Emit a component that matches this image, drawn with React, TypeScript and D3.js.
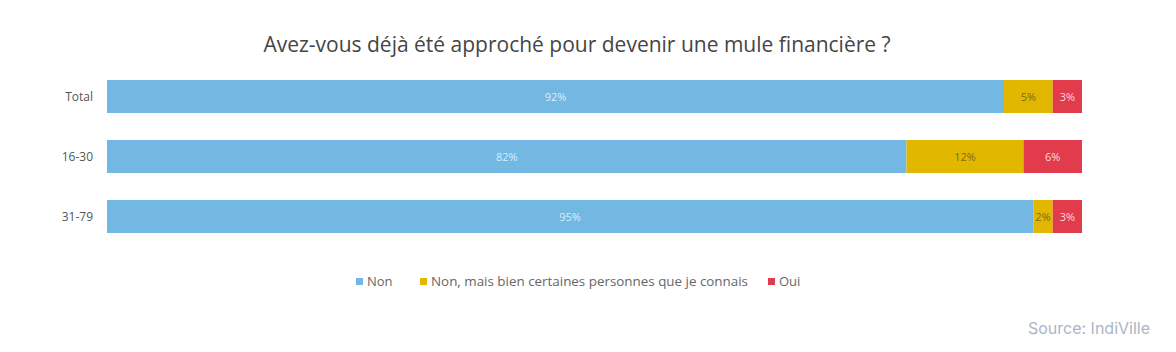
import React, { useEffect, useRef } from 'react';
import * as d3 from 'd3';

const categories = ['Total', '16-30', '31-79'];
const seriesNames = ['Non', 'Non, mais bien certaines personnes que je connais', 'Oui'];
const nonValues = [92, 82, 95];
const nonMaisValues = [5, 12, 2];
const ouiValues = [3, 6, 3];

const colors = ['#72b8e3', '#e1b700', '#e23b4b'];
const labelColors = ['#dcedf8', '#7d6c18', '#fbd9dc'];

const width = 1176;
const height = 352;
const margin = { top: 80, right: 94, bottom: 119, left: 107 };

const App: React.FC = () => {
  const svgRef = useRef<SVGSVGElement>(null);

  useEffect(() => {
    const svg = d3.select(svgRef.current);
    svg.selectAll('*').remove();

    const font = '"Open Sans", "Noto Sans", sans-serif';
    const innerWidth = width - margin.left - margin.right;

    const rows = categories.map((c, i) => ({
      category: c,
      [seriesNames[0]]: nonValues[i],
      [seriesNames[1]]: nonMaisValues[i],
      [seriesNames[2]]: ouiValues[i],
    }));

    const stacked = d3.stack<any>().keys(seriesNames)(rows);

    const x = d3.scaleLinear().domain([0, 100]).range([0, innerWidth]);
    // bands of 60px, bars 33px high
    const y = d3.scaleBand()
      .domain(categories)
      .range([margin.top - 13.5, margin.top - 13.5 + 180])
      .paddingInner(0.45)
      .paddingOuter(0.225);
    const barH = y.bandwidth();

    svg.append('rect').attr('width', width).attr('height', height).attr('fill', '#ffffff');

    // Title
    svg.append('text')
      .attr('x', 577)
      .attr('y', 52)
      .attr('text-anchor', 'middle')
      .attr('fill', '#454545')
      .style('font-family', font)
      .style('font-size', '21px')
      .text('Avez-vous déjà été approché pour devenir une mule financière ?');

    const g = svg.append('g').attr('transform', `translate(${margin.left},0)`);

    stacked.forEach((layer, si) => {
      const lg = g.append('g');
      lg.selectAll('rect')
        .data(layer)
        .enter()
        .append('rect')
        .attr('x', d => x(d[0]))
        .attr('y', d => y(d.data.category)!)
        .attr('width', d => x(d[1]) - x(d[0]))
        .attr('height', barH)
        .attr('fill', colors[si]);

      lg.selectAll('text')
        .data(layer)
        .enter()
        .append('text')
        .attr('x', d => (x(d[0]) + x(d[1])) / 2)
        .attr('y', d => y(d.data.category)! + barH / 2 + 4)
        .attr('text-anchor', 'middle')
        .attr('fill', labelColors[si])
        .style('font-family', font)
        .style('font-size', '11px')
        .text(d => `${d[1] - d[0]}%`);
    });

    // Category labels
    svg.append('g')
      .selectAll('text')
      .data(categories)
      .enter()
      .append('text')
      .attr('x', 93)
      .attr('y', d => y(d)! + barH / 2 + 4)
      .attr('text-anchor', 'end')
      .attr('fill', '#555555')
      .style('font-family', font)
      .style('font-size', '12px')
      .text(d => d);

    // Legend
    const legendX = [356, 420, 768];
    const legend = svg.append('g');
    seriesNames.forEach((name, i) => {
      legend.append('rect')
        .attr('x', legendX[i])
        .attr('y', 278)
        .attr('width', 7)
        .attr('height', 7)
        .attr('fill', colors[i]);
      legend.append('text')
        .attr('x', legendX[i] + 11)
        .attr('y', 286)
        .attr('fill', '#666666')
        .style('font-family', font)
        .style('font-size', '13px')
        .attr('textLength', i === 1 ? 317 : null)
        .attr('lengthAdjust', 'spacingAndGlyphs')
        .text(name);
    });

    // Source
    svg.append('text')
      .attr('x', 1150)
      .attr('y', 334)
      .attr('text-anchor', 'end')
      .attr('fill', '#aab6c6')
      .style('font-family', 'Inter, Roboto, sans-serif')
      .style('font-size', '16px')
      .text('Source: IndiVille');
  }, []);

  return (
    <svg
      ref={svgRef}
      width={width}
      height={height}
      style={{ position: 'absolute', left: 0, top: 0, display: 'block' }}
    />
  );
};

export default App;
